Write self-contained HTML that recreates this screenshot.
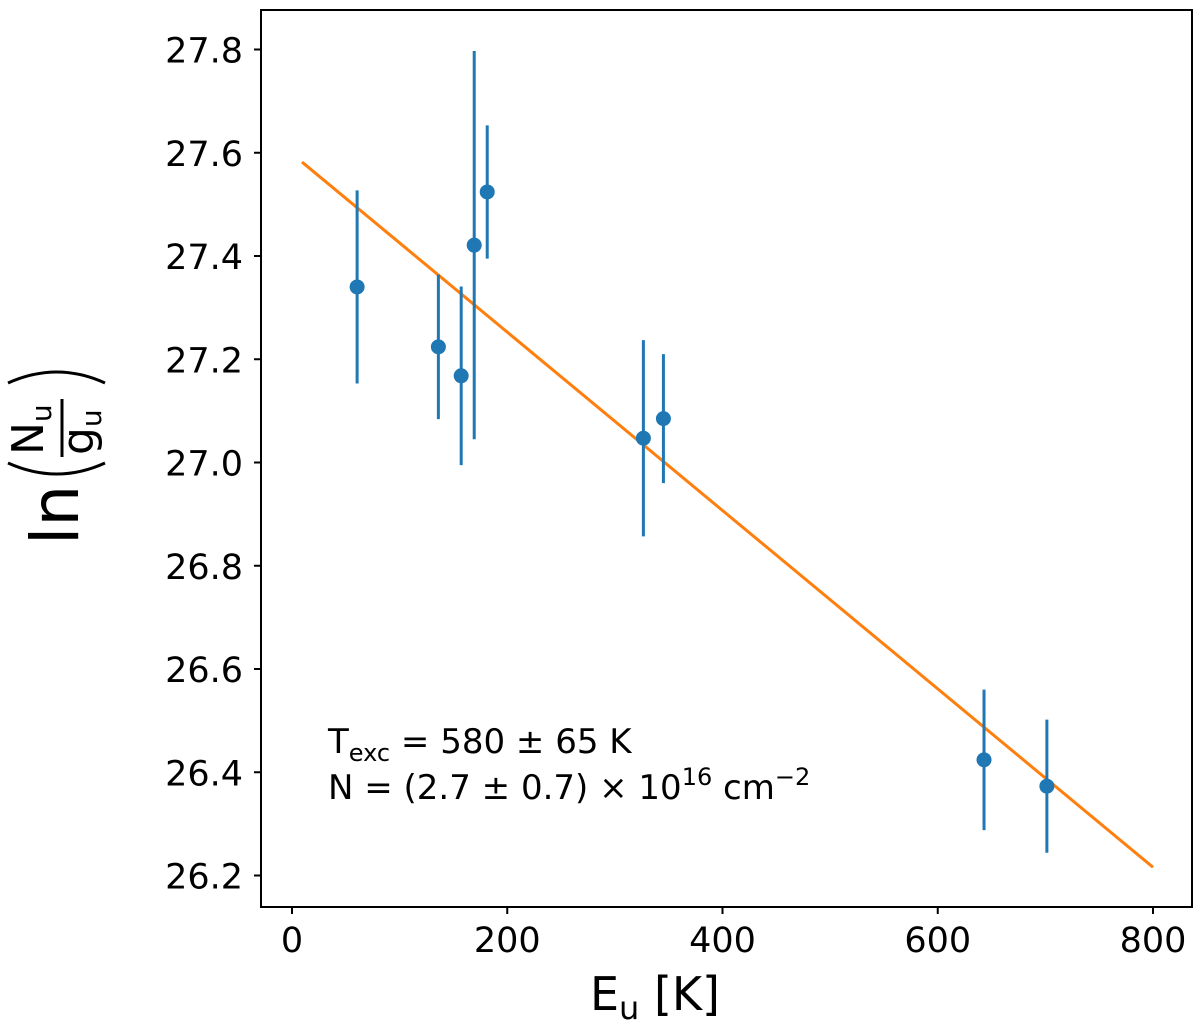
<!DOCTYPE html>
<html><head><meta charset="utf-8"><style>
html,body{margin:0;padding:0;background:#fff;}
svg{display:block;font-family:"DejaVu Sans","Liberation Sans",sans-serif;}
</style></head><body>
<svg id="chart" width="1200" height="1022" viewBox="0 0 1200 1022" xmlns="http://www.w3.org/2000/svg">
<g id="plot"></g>
<g transform="translate(55,455) rotate(-90)">
  <text x="-90" y="23" font-size="66" fill="#000">ln</text>
  <path d="M -8 -47 Q -30 2 -8 50" fill="none" stroke="#000" stroke-width="3"/>
  <path d="M 72 -47 Q 94 2 72 50" fill="none" stroke="#000" stroke-width="3"/>
  <line x1="-2" y1="7" x2="56" y2="7" stroke="#000" stroke-width="3"/>
  <text x="0" y="-12" font-size="44" fill="#000">N<tspan font-size="28" dy="8">u</tspan></text>
  <text x="0" y="38" font-size="44" fill="#000">g<tspan font-size="28" dy="8">u</tspan></text>
</g>
<text x="655" y="1010" font-size="46" text-anchor="middle">E<tspan font-size="32" dy="9">u</tspan><tspan dy="-9"> [K]</tspan></text>
<g font-size="34" fill="#000">
  <text x="328" y="753">T<tspan font-size="24" dy="8">exc</tspan><tspan dy="-8"> = 580 ± 65 K</tspan></text>
  <text x="328" y="799">N = (2.7 ± 0.7) × 10<tspan font-size="24" dy="-14">16</tspan><tspan dy="14"> cm</tspan><tspan font-size="24" dy="-14">−2</tspan></text>
</g>
</svg>
<script>
const energies = [60.5, 136, 157.2, 169.3, 181.4, 326.5, 345.1, 643, 701.4];
const lnValues = [27.340, 27.224, 27.168, 27.421, 27.524, 27.047, 27.085, 26.424, 26.373];
const lnErrors = [0.187, 0.14, 0.173, 0.376, 0.129, 0.19, 0.125, 0.136, 0.129];
const fitX = [9.3, 800];
const fitY = [27.582, 26.216];
const xTicks = [0, 200, 400, 600, 800];
const yTicks = [26.2, 26.4, 26.6, 26.8, 27.0, 27.2, 27.4, 27.6, 27.8];

const L=261,R=1192,T=10,B=907;
function sx(v){return 292 + v*(215.25/200);}
function sy(v){return 49.5 + (27.8 - v)*(826/1.6);}
const NS='http://www.w3.org/2000/svg';
const plot=document.getElementById('plot');
function mk(tag,attrs,parent){const e=document.createElementNS(NS,tag);for(const k in attrs)e.setAttribute(k,attrs[k]);(parent||plot).appendChild(e);return e;}

const fit=mk('line',{x1:sx(fitX[0]),y1:sy(fitY[0]),x2:sx(fitX[1]),y2:sy(fitY[1]),stroke:'#ff7f0e','stroke-width':3});



for(let i=0;i<energies.length;i++){
  const x=sx(energies[i]);
  const eb=mk('line',{x1:x,x2:x,y1:sy(lnValues[i]+lnErrors[i]),y2:sy(lnValues[i]-lnErrors[i]),stroke:'#1f77b4','stroke-width':3});
  
  
  const c=mk('circle',{cx:x,cy:sy(lnValues[i]),r:7.5,fill:'#1f77b4'});
  
  
}

const frame=mk('rect',{x:L,y:T,width:R-L,height:B-T,fill:'none',stroke:'#000','stroke-width':2});



xTicks.forEach(v=>{
  const x=sx(v);
  const t=mk('line',{x1:x,x2:x,y1:B,y2:B+7,stroke:'#000','stroke-width':2});
  
  
  const lb=mk('text',{x:x,y:B+45,'font-size':35,'text-anchor':'middle'});
  lb.textContent=String(v);
  
  
});
yTicks.forEach(v=>{
  const y=sy(v);
  const t=mk('line',{x1:L-7,x2:L,y1:y,y2:y,stroke:'#000','stroke-width':2});
  
  
  const lb=mk('text',{x:L-18,y:y+13,'font-size':35,'text-anchor':'end'});
  lb.textContent=v.toFixed(1);
  
  
});
</script>
</body></html>
